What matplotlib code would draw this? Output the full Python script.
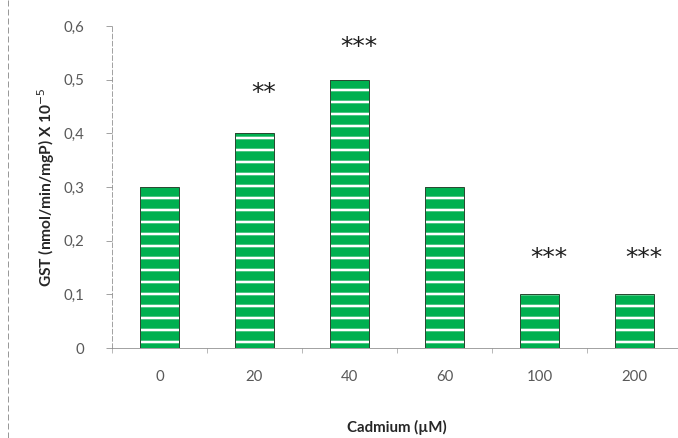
import matplotlib.pyplot as plt
from matplotlib.lines import Line2D
import numpy as np

# data
categories = ['0', '20', '40', '60', '100', '200']
gst_values = [0.3, 0.4, 0.5, 0.3, 0.1, 0.1]
signif = ['', '**', '***', '', '***', '***']
star_heights = [0.0, 0.475, 0.56, 0.0, 0.168, 0.168]
yticks = [0, 0.1, 0.2, 0.3, 0.4, 0.5, 0.6]
ytick_labels = ['0', '0,1', '0,2', '0,3', '0,4', '0,5', '0,6']

GREEN = '#00B050'
GREY = '#8c8c8c'
TXT = '#595959'

plt.rcParams['font.family'] = ['Lato', 'DejaVu Sans']
plt.rcParams['hatch.linewidth'] = 2.6

DPI = 72
fig = plt.figure(figsize=(678 / DPI, 438 / DPI), dpi=DPI)
ax = fig.add_axes([112 / 678, 1 - 348 / 438, 570 / 678, (348 - 26) / 438])

x = np.arange(len(categories))
# green fill with white horizontal stripes
ax.bar(x, gst_values, width=0.42, color=GREEN, edgecolor='white',
       hatch='-', linewidth=0, zorder=2)
# dark outline
ax.bar(x, gst_values, width=0.42, fill=False, edgecolor='#2b4a33',
       linewidth=1.0, zorder=3)

for xi, s, h in zip(x, signif, star_heights):
    if s:
        ax.text(xi + 0.1, h, s, ha='center', va='center', fontsize=25,
                family='DejaVu Sans', color='#1e1e1e')

ax.set_xlim(-0.5, len(categories) - 0.5)
ax.set_ylim(0, 0.6)

ax.set_yticks(yticks)
ax.set_yticklabels(ytick_labels, fontsize=15, color=TXT)
ax.tick_params(axis='y', length=6, color=GREY, pad=22)

ax.set_xticks(x)
ax.set_xticklabels(categories, fontsize=15, color=TXT)
ax.tick_params(axis='x', which='major', length=0, pad=22)
ax.set_xticks(np.arange(-0.5, len(categories), 1.0), minor=True)
ax.tick_params(axis='x', which='minor', length=5, color=GREY)

for side in ['top', 'right']:
    ax.spines[side].set_visible(False)
ax.spines['left'].set_color(GREY)
ax.spines['left'].set_linestyle((0, (6, 3)))
ax.spines['bottom'].set_color(GREY)

ax.set_ylabel('GST (nmol/min/mgP) X 10$^{-5}$', fontsize=15.5, fontweight='bold',
              color='#262626', labelpad=6)
ax.set_xlabel('Cadmium (µM)', fontsize=15, fontweight='bold', color='#262626',
              labelpad=36)

# dashed frame line on the far left
fig.add_artist(Line2D([8 / 678, 8 / 678], [0, 1], transform=fig.transFigure,
                      color='#999999', linewidth=1, linestyle=(0, (6, 3))))

fig.savefig('out.png', dpi=DPI)
